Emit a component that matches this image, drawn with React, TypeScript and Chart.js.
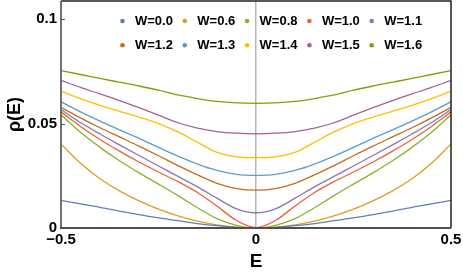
import React, { useEffect, useRef } from 'react';
import { Chart, registerables } from 'chart.js';

Chart.register(...registerables);

const energies = [
  -0.5, -0.45, -0.4, -0.35, -0.3, -0.25, -0.2, -0.15, -0.1, -0.05, 0,
  0.05, 0.1, 0.15, 0.2, 0.25, 0.3, 0.35, 0.4, 0.45, 0.5,
];

const seriesLabels = ['W=0.0', 'W=0.6', 'W=0.8', 'W=1.0', 'W=1.1', 'W=1.2', 'W=1.3', 'W=1.4', 'W=1.5', 'W=1.6'];
const seriesColors = ['#5E81B5', '#E19C24', '#8FB032', '#EB6235', '#8778B3', '#C56E1A', '#5D9EC7', '#FFBF00', '#A5609D', '#929600'];

const rhoW00 = [0.0132, 0.0115, 0.0099, 0.0081, 0.0064, 0.0048, 0.0035, 0.0021, 0.0011, 0.0003, 0, 0.0003, 0.0011, 0.0021, 0.0035, 0.0048, 0.0064, 0.0081, 0.0099, 0.0115, 0.0132];
const rhoW06 = [0.0403, 0.0310, 0.0236, 0.0178, 0.0130, 0.0090, 0.0058, 0.0033, 0.0015, 0.0004, 0, 0.0004, 0.0015, 0.0033, 0.0058, 0.0090, 0.0130, 0.0178, 0.0236, 0.0310, 0.0403];
const rhoW08 = [0.0542, 0.0458, 0.0386, 0.0322, 0.0264, 0.0210, 0.0155, 0.0097, 0.0045, 0.0013, 0, 0.0013, 0.0045, 0.0097, 0.0155, 0.0210, 0.0264, 0.0322, 0.0386, 0.0458, 0.0542];
const rhoW10 = [0.0556, 0.0486, 0.0424, 0.0368, 0.0316, 0.0268, 0.0222, 0.0170, 0.0105, 0.0036, 0.0002, 0.0036, 0.0105, 0.0170, 0.0222, 0.0268, 0.0316, 0.0368, 0.0424, 0.0486, 0.0556];
const rhoW11 = [0.0567, 0.0505, 0.0450, 0.0398, 0.0347, 0.0297, 0.0247, 0.0197, 0.0143, 0.0092, 0.0073, 0.0092, 0.0143, 0.0197, 0.0247, 0.0297, 0.0347, 0.0398, 0.0450, 0.0505, 0.0567];
const rhoW12 = [0.0578, 0.0527, 0.0480, 0.0436, 0.0392, 0.0346, 0.0299, 0.0254, 0.0214, 0.0189, 0.0181, 0.0189, 0.0214, 0.0254, 0.0299, 0.0346, 0.0392, 0.0436, 0.0480, 0.0527, 0.0578];
const rhoW13 = [0.0605, 0.0556, 0.0512, 0.0470, 0.0429, 0.0386, 0.0344, 0.0306, 0.0276, 0.0257, 0.0252, 0.0257, 0.0276, 0.0306, 0.0344, 0.0386, 0.0429, 0.0470, 0.0512, 0.0556, 0.0605];
const rhoW14 = [0.0656, 0.0619, 0.0587, 0.0559, 0.0531, 0.0500, 0.0460, 0.0410, 0.0362, 0.0341, 0.0337, 0.0341, 0.0362, 0.0410, 0.0460, 0.0500, 0.0531, 0.0559, 0.0587, 0.0619, 0.0656];
const rhoW15 = [0.0707, 0.0673, 0.0642, 0.0610, 0.0576, 0.0540, 0.0504, 0.0478, 0.0462, 0.0454, 0.0451, 0.0454, 0.0462, 0.0478, 0.0504, 0.0540, 0.0576, 0.0610, 0.0642, 0.0673, 0.0707];
const rhoW16 = [0.0754, 0.0735, 0.0716, 0.0698, 0.0680, 0.0660, 0.0637, 0.0620, 0.0606, 0.0599, 0.0597, 0.0599, 0.0606, 0.0620, 0.0637, 0.0660, 0.0680, 0.0698, 0.0716, 0.0735, 0.0754];

const allSeries = [rhoW00, rhoW06, rhoW08, rhoW10, rhoW11, rhoW12, rhoW13, rhoW14, rhoW15, rhoW16];

const xTickValues = [-0.5, 0, 0.5];
const xTickLabels = ['\u22120.5', '0', '0.5'];
const yTickValues = [0, 0.05, 0.1];
const yTickLabels = ['0', '0.05', '0.1'];

const FONT = '"Liberation Sans", Arial, Helvetica, sans-serif';

const framePlugin = {
  id: 'frame',
  afterDatasetsDraw(chart: any) {
    const { ctx, chartArea } = chart;
    const { left, right, top, bottom } = chartArea;
    const yScale = chart.scales.y;
    ctx.save();
    ctx.strokeStyle = '#222';
    ctx.lineWidth = 1.5;
    ctx.beginPath();
    ctx.moveTo(left, top);
    ctx.lineTo(right, top);
    ctx.lineTo(right, bottom);
    ctx.stroke();
    ctx.strokeStyle = '#707070';
    ctx.lineWidth = 2;
    ctx.beginPath();
    ctx.moveTo(left, top);
    ctx.lineTo(left, bottom);
    ctx.stroke();
    ctx.strokeStyle = '#505050';
    ctx.lineWidth = 2;
    ctx.beginPath();
    ctx.moveTo(left - 1, bottom);
    ctx.lineTo(right, bottom);
    ctx.stroke();
    ctx.strokeStyle = '#505050';
    ctx.lineWidth = 1;
    yTickValues.forEach((v) => {
      if (v === 0) return;
      const py = Math.round(yScale.getPixelForValue(v)) + 0.5;
      ctx.beginPath();
      ctx.moveTo(left, py);
      ctx.lineTo(left + 4, py);
      ctx.stroke();
    });
    ctx.restore();
  },
};

const legendPlugin = {
  id: 'customLegend',
  afterDraw(chart: any) {
    const { ctx, chartArea } = chart;
    ctx.save();
    ctx.font = `bold 13px ${FONT}`;
    ctx.textBaseline = 'middle';
    ctx.textAlign = 'left';
    chart.data.datasets.forEach((ds: any, i: number) => {
      const col = i % 5;
      const row = Math.floor(i / 5);
      const mx = chartArea.left + 61.5 + col * 62.3;
      const my = chartArea.top + 20 + row * 24.3;
      ctx.fillStyle = ds.borderColor;
      ctx.beginPath();
      ctx.arc(mx, my, 2.3, 0, Math.PI * 2);
      ctx.fill();
      ctx.fillStyle = '#000';
      ctx.fillText(ds.label, mx + 12.5, my);
    });
    ctx.restore();
  },
};

export default function App() {
  const canvasRef = useRef<HTMLCanvasElement | null>(null);

  useEffect(() => {
    document.body.style.margin = '0';
    const canvas = canvasRef.current;
    if (!canvas) return;
    const chart = new Chart(canvas, {
      type: 'line',
      data: {
        datasets: allSeries.map((vals, i) => ({
          label: seriesLabels[i],
          data: energies.map((e, j) => ({ x: e, y: vals[j] })),
          borderColor: seriesColors[i],
          backgroundColor: seriesColors[i],
          borderWidth: 1.3,
          pointRadius: 0,
          cubicInterpolationMode: 'monotone' as const,
          fill: false,
        })),
      },
      options: {
        animation: false,
        responsive: false,
        maintainAspectRatio: false,
        events: [],
        layout: { padding: { top: 1, right: 12, left: 0, bottom: 0 } },
        plugins: {
          legend: { display: false },
          tooltip: { enabled: false },
        },
        scales: {
          x: {
            type: 'linear',
            min: -0.5,
            max: 0.5,
            afterBuildTicks: (s: any) => {
              s.ticks = xTickValues.map((v) => ({ value: v }));
            },
            afterFit: (s: any) => {
              s.height = 45;
              s.paddingLeft = 0;
              s.paddingRight = 0;
            },
            ticks: {
              autoSkip: false,
              maxRotation: 0,
              padding: 3,
              color: '#000',
              font: { family: FONT, size: 15, weight: 'bold' },
              callback: (v: any) => {
                const idx = xTickValues.indexOf(Number(v));
                return idx >= 0 ? xTickLabels[idx] : '';
              },
            },
            grid: {
              drawTicks: false,
              lineWidth: 1.5,
              color: (c: any) => (c.tick && c.tick.value === 0 ? '#b5b5b5' : 'rgba(0,0,0,0)'),
            },
            border: { display: false },
            title: {
              display: true,
              text: 'E',
              color: '#000',
              font: { family: FONT, size: 19, weight: 'bold' },
              padding: { top: 1, bottom: 0 },
            },
          },
          y: {
            type: 'linear',
            min: 0,
            max: 0.1087,
            afterBuildTicks: (s: any) => {
              s.ticks = yTickValues.map((v) => ({ value: v }));
            },
            afterFit: (s: any) => {
              s.width = 61;
              s.paddingTop = 0;
              s.paddingBottom = 0;
            },
            ticks: {
              autoSkip: false,
              padding: 4,
              color: '#000',
              font: { family: FONT, size: 15, weight: 'bold' },
              callback: (v: any) => {
                const idx = yTickValues.indexOf(Number(v));
                return idx >= 0 ? yTickLabels[idx] : '';
              },
            },
            grid: { display: false, drawTicks: false },
            border: { display: false },
            title: {
              display: true,
              text: '\u03C1(E)',
              color: '#000',
              font: { family: FONT, size: 18, weight: 'bold' },
              padding: { top: 4, bottom: 0 },
            },
          },
        },
      },
      plugins: [framePlugin, legendPlugin],
    } as any);
    return () => {
      chart.destroy();
    };
  }, []);

  return (
    <div style={{ width: 463, height: 273 }}>
      <canvas ref={canvasRef} width={463} height={273} style={{ display: 'block', width: 463, height: 273 }} />
    </div>
  );
}
